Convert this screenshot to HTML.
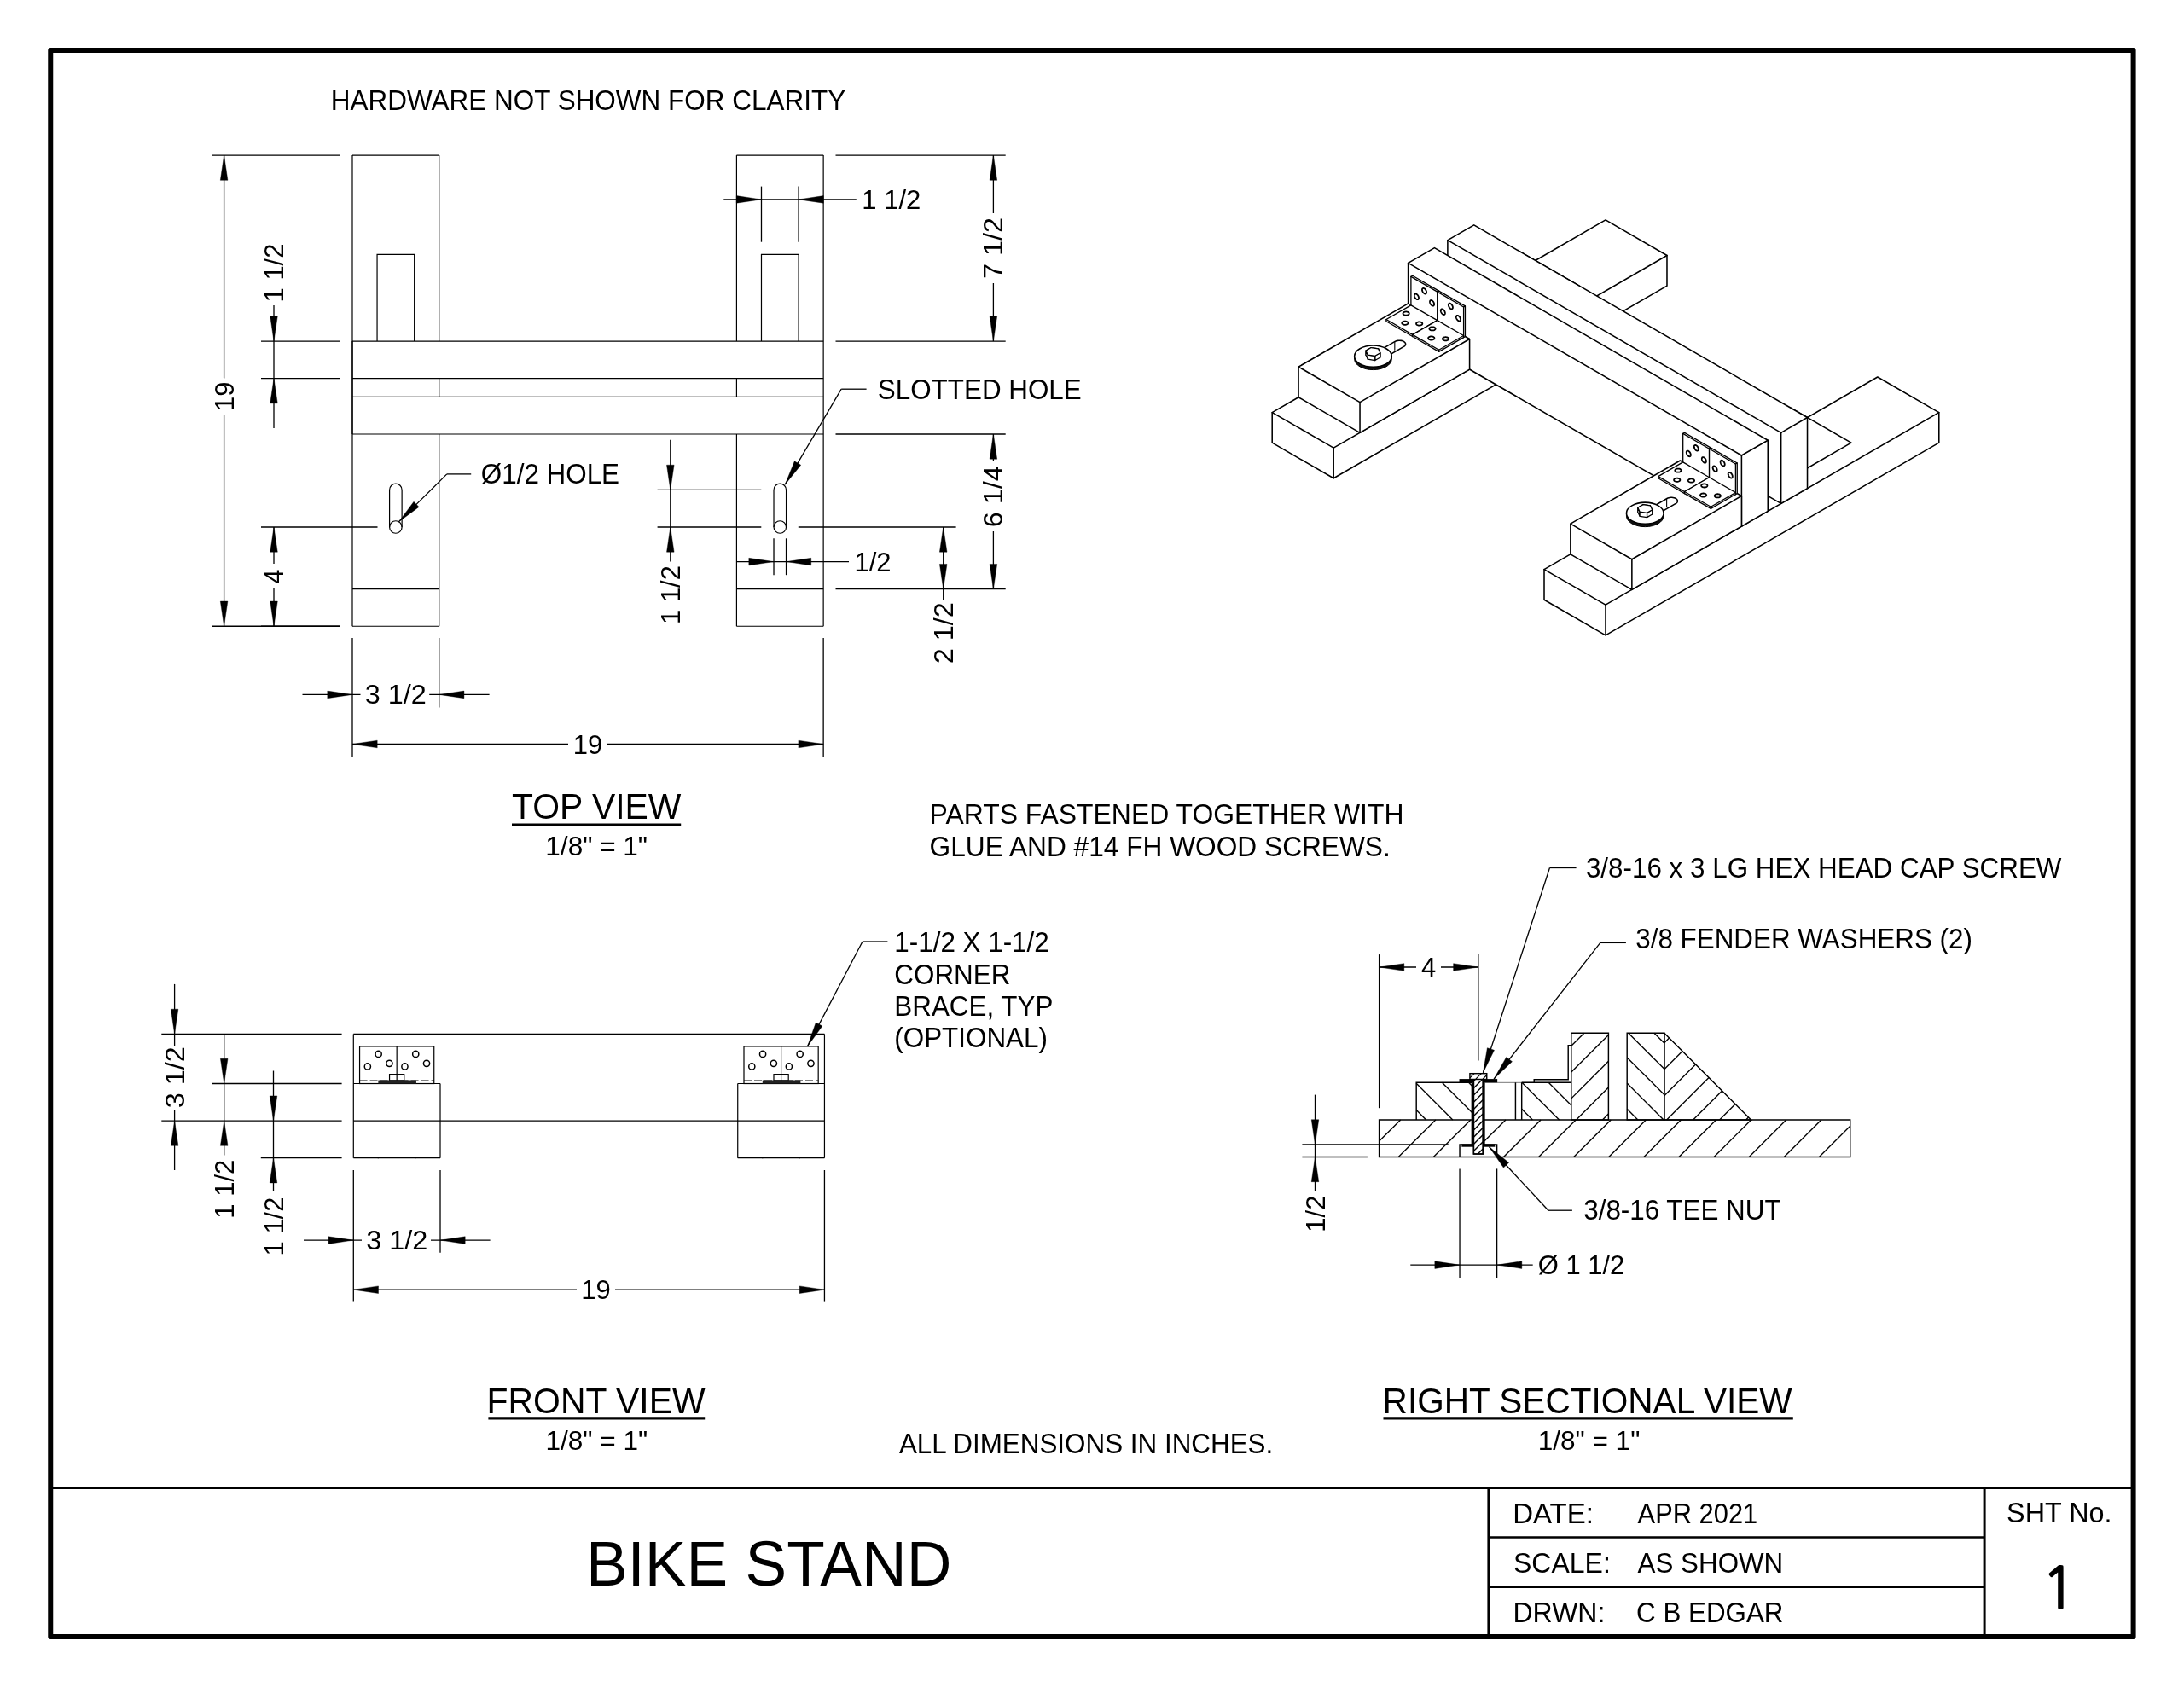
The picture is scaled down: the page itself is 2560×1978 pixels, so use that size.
<!DOCTYPE html>
<html lang="en"><head><meta charset="utf-8"><title>BIKE STAND</title>
<style>
html,body{margin:0;padding:0;background:#fff;}
body{width:2560px;height:1978px;overflow:hidden;}
svg{display:block;will-change:transform;}
svg text{font-family:"Liberation Sans",Arial,Helvetica,sans-serif;fill:#000;}
</style></head><body>
<svg width="2560" height="1978" viewBox="0 0 2560 1978">
<rect x="0" y="0" width="2560" height="1978" fill="#fff"/>
<rect x="59.25" y="58.9" width="2441.35" height="1860" fill="none" stroke="#000" stroke-width="6" stroke-linejoin="round"/>
<line x1="59.00" y1="1744.40" x2="2501.00" y2="1744.40" stroke="#000" stroke-width="3" />
<line x1="1744.90" y1="1744.40" x2="1744.90" y2="1919.00" stroke="#000" stroke-width="3" />
<line x1="2326.10" y1="1744.40" x2="2326.10" y2="1919.00" stroke="#000" stroke-width="3" />
<line x1="413.00" y1="182.10" x2="514.71" y2="182.10" stroke="#000" stroke-width="1.2" />
<line x1="413.00" y1="734.24" x2="514.71" y2="734.24" stroke="#000" stroke-width="1.2" />
<line x1="413.00" y1="182.10" x2="413.00" y2="734.24" stroke="#000" stroke-width="1.2" />
<line x1="514.71" y1="182.10" x2="514.71" y2="400.05" stroke="#000" stroke-width="1.2" />
<line x1="514.71" y1="443.64" x2="514.71" y2="465.43" stroke="#000" stroke-width="1.2" />
<line x1="514.71" y1="509.02" x2="514.71" y2="734.24" stroke="#000" stroke-width="1.2" />
<line x1="413.00" y1="690.65" x2="514.71" y2="690.65" stroke="#000" stroke-width="1.2" />
<polyline points="442.06,400.05 442.06,298.34 485.65,298.34 485.65,400.05" fill="none" stroke="#000" stroke-width="1.2" />
<path d="M456.59,618.00 L456.59,574.41 A7.26,7.26 0 0 1 471.12,574.41 L471.12,618.00" fill="none" stroke="#000" stroke-width="1.2"/>
<circle cx="463.86" cy="618.00" r="7.26" fill="none" stroke="#000" stroke-width="1.2"/>
<line x1="863.43" y1="182.10" x2="965.14" y2="182.10" stroke="#000" stroke-width="1.2" />
<line x1="863.43" y1="734.24" x2="965.14" y2="734.24" stroke="#000" stroke-width="1.2" />
<line x1="965.14" y1="182.10" x2="965.14" y2="734.24" stroke="#000" stroke-width="1.2" />
<line x1="863.43" y1="182.10" x2="863.43" y2="400.05" stroke="#000" stroke-width="1.2" />
<line x1="863.43" y1="443.64" x2="863.43" y2="465.43" stroke="#000" stroke-width="1.2" />
<line x1="863.43" y1="509.02" x2="863.43" y2="734.24" stroke="#000" stroke-width="1.2" />
<line x1="863.43" y1="690.65" x2="965.14" y2="690.65" stroke="#000" stroke-width="1.2" />
<polyline points="892.49,400.05 892.49,298.34 936.08,298.34 936.08,400.05" fill="none" stroke="#000" stroke-width="1.2" />
<path d="M907.02,618.00 L907.02,574.41 A7.26,7.26 0 0 1 921.55,574.41 L921.55,618.00" fill="none" stroke="#000" stroke-width="1.2"/>
<circle cx="914.28" cy="618.00" r="7.26" fill="none" stroke="#000" stroke-width="1.2"/>
<line x1="413.00" y1="400.05" x2="965.14" y2="400.05" stroke="#000" stroke-width="1.2" />
<line x1="413.00" y1="443.64" x2="965.14" y2="443.64" stroke="#000" stroke-width="1.2" />
<line x1="413.00" y1="465.43" x2="965.14" y2="465.43" stroke="#000" stroke-width="1.2" />
<line x1="413.00" y1="509.02" x2="965.14" y2="509.02" stroke="#000" stroke-width="1.2" />
<line x1="413.00" y1="400.05" x2="413.00" y2="509.02" stroke="#000" stroke-width="1.2" />
<line x1="248.00" y1="182.10" x2="398.50" y2="182.10" stroke="#000" stroke-width="1.3" />
<line x1="248.00" y1="734.24" x2="398.50" y2="734.24" stroke="#000" stroke-width="1.3" />
<line x1="262.60" y1="182.10" x2="262.60" y2="443.50" stroke="#000" stroke-width="1.3" />
<line x1="262.60" y1="487.00" x2="262.60" y2="734.24" stroke="#000" stroke-width="1.3" />
<polygon points="262.60,182.10 266.90,211.30 258.30,211.30" fill="#000" stroke="#000" stroke-width="0.4"/>
<polygon points="262.60,734.24 258.30,705.04 266.90,705.04" fill="#000" stroke="#000" stroke-width="0.4"/>
<text transform="translate(273.65 464.80) rotate(-90) scale(0.975 1)" font-size="31.8" text-anchor="middle" >19</text>
<line x1="306.00" y1="400.05" x2="398.50" y2="400.05" stroke="#000" stroke-width="1.3" />
<line x1="306.00" y1="443.64" x2="398.50" y2="443.64" stroke="#000" stroke-width="1.3" />
<line x1="321.00" y1="358.00" x2="321.00" y2="501.90" stroke="#000" stroke-width="1.3" />
<polygon points="321.00,400.05 316.70,370.85 325.30,370.85" fill="#000" stroke="#000" stroke-width="0.4"/>
<polygon points="321.00,443.64 325.30,472.84 316.70,472.84" fill="#000" stroke="#000" stroke-width="0.4"/>
<text transform="translate(332.05 320.00) rotate(-90) scale(0.975 1)" font-size="31.8" text-anchor="middle" >1 1/2</text>
<line x1="306.00" y1="618.00" x2="442.50" y2="618.00" stroke="#000" stroke-width="1.3" />
<line x1="306.00" y1="734.24" x2="398.50" y2="734.24" stroke="#000" stroke-width="1.3" />
<line x1="321.00" y1="618.00" x2="321.00" y2="661.00" stroke="#000" stroke-width="1.3" />
<line x1="321.00" y1="690.00" x2="321.00" y2="734.24" stroke="#000" stroke-width="1.3" />
<polygon points="321.00,618.00 325.30,647.20 316.70,647.20" fill="#000" stroke="#000" stroke-width="0.4"/>
<polygon points="321.00,734.24 316.70,705.04 325.30,705.04" fill="#000" stroke="#000" stroke-width="0.4"/>
<text transform="translate(332.05 676.12) rotate(-90) scale(0.975 1)" font-size="31.8" text-anchor="middle" >4</text>
<polygon points="467.30,611.90 485.01,588.29 491.07,594.40" fill="#000" stroke="#000" stroke-width="0.4"/>
<line x1="467.30" y1="611.90" x2="523.80" y2="555.90" stroke="#000" stroke-width="1.3" />
<line x1="523.80" y1="555.90" x2="552.20" y2="555.90" stroke="#000" stroke-width="1.3" />
<text transform="translate(563.80 567.20) scale(0.96 1)" font-size="32.7" text-anchor="start" >Ø1/2 HOLE</text>
<line x1="413.00" y1="748.10" x2="413.00" y2="887.50" stroke="#000" stroke-width="1.3" />
<line x1="514.71" y1="748.10" x2="514.71" y2="829.40" stroke="#000" stroke-width="1.3" />
<line x1="965.14" y1="748.10" x2="965.14" y2="887.50" stroke="#000" stroke-width="1.3" />
<line x1="354.50" y1="814.40" x2="422.50" y2="814.40" stroke="#000" stroke-width="1.3" />
<line x1="503.20" y1="814.40" x2="573.60" y2="814.40" stroke="#000" stroke-width="1.3" />
<polygon points="413.00,814.40 383.80,818.70 383.80,810.10" fill="#000" stroke="#000" stroke-width="0.4"/>
<polygon points="514.71,814.40 543.91,810.10 543.91,818.70" fill="#000" stroke="#000" stroke-width="0.4"/>
<text transform="translate(463.86 825.45) scale(1.018875 1)" font-size="31.8" text-anchor="middle" >3 1/2</text>
<line x1="413.00" y1="872.50" x2="666.00" y2="872.50" stroke="#000" stroke-width="1.3" />
<line x1="711.00" y1="872.50" x2="965.14" y2="872.50" stroke="#000" stroke-width="1.3" />
<polygon points="413.00,872.50 442.20,868.20 442.20,876.80" fill="#000" stroke="#000" stroke-width="0.4"/>
<polygon points="965.14,872.50 935.94,876.80 935.94,868.20" fill="#000" stroke="#000" stroke-width="0.4"/>
<text transform="translate(689.07 883.55) scale(0.975 1)" font-size="31.8" text-anchor="middle" >19</text>
<line x1="979.50" y1="182.10" x2="1178.70" y2="182.10" stroke="#000" stroke-width="1.3" />
<line x1="979.50" y1="400.05" x2="1178.70" y2="400.05" stroke="#000" stroke-width="1.3" />
<line x1="979.50" y1="509.02" x2="1178.70" y2="509.02" stroke="#000" stroke-width="1.3" />
<line x1="979.50" y1="690.65" x2="1178.70" y2="690.65" stroke="#000" stroke-width="1.3" />
<line x1="1164.40" y1="182.10" x2="1164.40" y2="250.00" stroke="#000" stroke-width="1.3" />
<line x1="1164.40" y1="332.00" x2="1164.40" y2="400.05" stroke="#000" stroke-width="1.3" />
<polygon points="1164.40,182.10 1168.70,211.30 1160.10,211.30" fill="#000" stroke="#000" stroke-width="0.4"/>
<polygon points="1164.40,400.05 1160.10,370.85 1168.70,370.85" fill="#000" stroke="#000" stroke-width="0.4"/>
<text transform="translate(1175.45 291.07) rotate(-90) scale(1.018875 1)" font-size="31.8" text-anchor="middle" >7 1/2</text>
<line x1="1164.40" y1="509.02" x2="1164.40" y2="541.00" stroke="#000" stroke-width="1.3" />
<line x1="1164.40" y1="623.00" x2="1164.40" y2="690.65" stroke="#000" stroke-width="1.3" />
<polygon points="1164.40,509.02 1168.70,538.23 1160.10,538.23" fill="#000" stroke="#000" stroke-width="0.4"/>
<polygon points="1164.40,690.65 1160.10,661.45 1168.70,661.45" fill="#000" stroke="#000" stroke-width="0.4"/>
<text transform="translate(1175.45 582.20) rotate(-90) scale(1.018875 1)" font-size="31.8" text-anchor="middle" >6 1/4</text>
<line x1="892.49" y1="218.60" x2="892.49" y2="283.70" stroke="#000" stroke-width="1.3" />
<line x1="936.08" y1="218.60" x2="936.08" y2="283.70" stroke="#000" stroke-width="1.3" />
<line x1="848.30" y1="233.90" x2="1003.80" y2="233.90" stroke="#000" stroke-width="1.3" />
<polygon points="892.49,233.90 863.29,238.20 863.29,229.60" fill="#000" stroke="#000" stroke-width="0.4"/>
<polygon points="936.08,233.90 965.28,229.60 965.28,238.20" fill="#000" stroke="#000" stroke-width="0.4"/>
<text transform="translate(1010.30 244.95) scale(0.975 1)" font-size="31.8" text-anchor="start" >1 1/2</text>
<polygon points="920.20,568.20 931.32,540.86 938.73,545.23" fill="#000" stroke="#000" stroke-width="0.4"/>
<line x1="920.20" y1="568.20" x2="986.20" y2="456.20" stroke="#000" stroke-width="1.3" />
<line x1="986.20" y1="456.20" x2="1015.60" y2="456.20" stroke="#000" stroke-width="1.3" />
<text transform="translate(1028.80 467.50) scale(0.96 1)" font-size="32.7" text-anchor="start" >SLOTTED HOLE</text>
<line x1="770.60" y1="574.41" x2="892.30" y2="574.41" stroke="#000" stroke-width="1.3" />
<line x1="770.60" y1="618.00" x2="892.30" y2="618.00" stroke="#000" stroke-width="1.3" />
<line x1="785.80" y1="515.70" x2="785.80" y2="658.60" stroke="#000" stroke-width="1.3" />
<polygon points="785.80,574.41 781.50,545.21 790.10,545.21" fill="#000" stroke="#000" stroke-width="0.4"/>
<polygon points="785.80,618.00 790.10,647.20 781.50,647.20" fill="#000" stroke="#000" stroke-width="0.4"/>
<text transform="translate(796.85 697.50) rotate(-90) scale(0.975 1)" font-size="31.8" text-anchor="middle" >1 1/2</text>
<line x1="907.02" y1="631.30" x2="907.02" y2="674.20" stroke="#000" stroke-width="1.3" />
<line x1="921.55" y1="631.30" x2="921.55" y2="674.20" stroke="#000" stroke-width="1.3" />
<line x1="863.60" y1="658.60" x2="995.00" y2="658.60" stroke="#000" stroke-width="1.3" />
<polygon points="907.02,658.60 877.82,662.90 877.82,654.30" fill="#000" stroke="#000" stroke-width="0.4"/>
<polygon points="921.55,658.60 950.75,654.30 950.75,662.90" fill="#000" stroke="#000" stroke-width="0.4"/>
<text transform="translate(1001.50 669.65) scale(0.975 1)" font-size="31.8" text-anchor="start" >1/2</text>
<line x1="935.80" y1="618.00" x2="1120.60" y2="618.00" stroke="#000" stroke-width="1.3" />
<line x1="1105.70" y1="618.00" x2="1105.70" y2="703.20" stroke="#000" stroke-width="1.3" />
<polygon points="1105.70,618.00 1110.00,647.20 1101.40,647.20" fill="#000" stroke="#000" stroke-width="0.4"/>
<polygon points="1105.70,690.65 1101.40,661.45 1110.00,661.45" fill="#000" stroke="#000" stroke-width="0.4"/>
<text transform="translate(1116.75 742.30) rotate(-90) scale(1.018875 1)" font-size="31.8" text-anchor="middle" >2 1/2</text>
<text transform="translate(387.80 129.40) scale(0.94 1)" font-size="33.5" text-anchor="start" >HARDWARE NOT SHOWN FOR CLARITY</text>
<text transform="translate(699.20 960.40) scale(0.981 1)" font-size="41.7" text-anchor="middle" >TOP VIEW</text>
<line x1="600.00" y1="966.80" x2="798.20" y2="966.80" stroke="#000" stroke-width="2.4" />
<text transform="translate(699.20 1003.30) scale(0.986 1)" font-size="32.0" text-anchor="middle" >1/8&quot; = 1&quot;</text>
<text transform="translate(698.60 1657.00) scale(0.981 1)" font-size="41.7" text-anchor="middle" >FRONT VIEW</text>
<line x1="572.40" y1="1663.40" x2="826.20" y2="1663.40" stroke="#000" stroke-width="2.4" />
<text transform="translate(699.30 1699.90) scale(0.986 1)" font-size="32.0" text-anchor="middle" >1/8&quot; = 1&quot;</text>
<text transform="translate(1860.60 1657.00) scale(0.973 1)" font-size="41.7" text-anchor="middle" >RIGHT SECTIONAL VIEW</text>
<line x1="1621.50" y1="1663.40" x2="2101.80" y2="1663.40" stroke="#000" stroke-width="2.4" />
<text transform="translate(1862.50 1699.90) scale(0.986 1)" font-size="32.0" text-anchor="middle" >1/8&quot; = 1&quot;</text>
<text transform="translate(1089.60 966.20) scale(0.98 1)" font-size="32.55" text-anchor="start" >PARTS FASTENED TOGETHER WITH</text>
<text transform="translate(1089.60 1003.60) scale(0.973 1)" font-size="32.55" text-anchor="start" >GLUE AND #14 FH WOOD SCREWS.</text>
<text transform="translate(1053.90 1703.70) scale(0.96 1)" font-size="32.7" text-anchor="start" >ALL DIMENSIONS IN INCHES.</text>
<text transform="translate(686.90 1858.50) scale(0.993 1)" font-size="73.5" text-anchor="start" >BIKE STAND</text>
<line x1="1744.90" y1="1802.50" x2="2326.10" y2="1802.50" stroke="#000" stroke-width="2.5" />
<line x1="1744.90" y1="1860.70" x2="2326.10" y2="1860.70" stroke="#000" stroke-width="2.5" />
<text transform="translate(1773.20 1785.90)" font-size="33.0" text-anchor="start" >DATE:</text>
<text transform="translate(1919.60 1785.90) scale(0.935 1)" font-size="33.0" text-anchor="start" >APR 2021</text>
<text transform="translate(1774.00 1844.10) scale(0.97 1)" font-size="33.0" text-anchor="start" >SCALE:</text>
<text transform="translate(1919.60 1844.10) scale(0.95 1)" font-size="33.0" text-anchor="start" >AS SHOWN</text>
<text transform="translate(1773.50 1901.90) scale(0.97 1)" font-size="33.0" text-anchor="start" >DRWN:</text>
<text transform="translate(1918.10 1901.90) scale(0.95 1)" font-size="33.0" text-anchor="start" >C B EDGAR</text>
<text transform="translate(2352.10 1785.30) scale(0.98 1)" font-size="33.0" text-anchor="start" >SHT No.</text>
<text transform="translate(2413.30 1886.30)" font-size="67.0" text-anchor="middle" style="font-family:NanumGothic,&quot;Liberation Sans&quot;,sans-serif;stroke:#000;stroke-width:1.8px">1</text>
<line x1="414.30" y1="1212.40" x2="966.44" y2="1212.40" stroke="#000" stroke-width="1.2" />
<line x1="414.30" y1="1212.40" x2="414.30" y2="1357.70" stroke="#000" stroke-width="1.2" />
<line x1="966.44" y1="1212.40" x2="966.44" y2="1357.70" stroke="#000" stroke-width="1.2" />
<line x1="414.30" y1="1314.11" x2="966.44" y2="1314.11" stroke="#000" stroke-width="1.2" />
<line x1="414.30" y1="1270.52" x2="516.01" y2="1270.52" stroke="#000" stroke-width="1.2" />
<line x1="414.30" y1="1357.70" x2="516.01" y2="1357.70" stroke="#000" stroke-width="1.2" />
<line x1="516.01" y1="1270.52" x2="516.01" y2="1357.70" stroke="#000" stroke-width="1.2" />
<rect x="421.56" y="1226.93" width="87.18" height="43.59" fill="none" stroke="#000" stroke-width="1.2"/>
<line x1="465.16" y1="1226.93" x2="465.16" y2="1270.52" stroke="#000" stroke-width="1.2" />
<line x1="421.56" y1="1267.03" x2="508.75" y2="1267.03" stroke="#000" stroke-width="1.2" stroke-dasharray="9 3"/>
<circle cx="443.65" cy="1235.94" r="3.6" fill="#fff" stroke="#000" stroke-width="1.5"/>
<circle cx="430.86" cy="1250.47" r="3.6" fill="#fff" stroke="#000" stroke-width="1.5"/>
<circle cx="456.44" cy="1246.84" r="3.6" fill="#fff" stroke="#000" stroke-width="1.5"/>
<circle cx="487.24" cy="1235.94" r="3.6" fill="#fff" stroke="#000" stroke-width="1.5"/>
<circle cx="474.45" cy="1250.47" r="3.6" fill="#fff" stroke="#000" stroke-width="1.5"/>
<circle cx="500.03" cy="1246.84" r="3.6" fill="#fff" stroke="#000" stroke-width="1.5"/>
<rect x="456.56" y="1259.62" width="17.20" height="7.20" fill="#fff" stroke="#000" stroke-width="1.2"/>
<line x1="465.16" y1="1259.62" x2="465.16" y2="1270.52" stroke="#000" stroke-width="1.2" />
<rect x="443.36" y="1266.52" width="44.59" height="4.0" fill="#222"/>
<line x1="443.36" y1="1356.20" x2="443.36" y2="1358.20" stroke="#000" stroke-width="1.2" />
<line x1="486.95" y1="1356.20" x2="486.95" y2="1358.20" stroke="#000" stroke-width="1.2" />
<line x1="864.73" y1="1270.52" x2="966.44" y2="1270.52" stroke="#000" stroke-width="1.2" />
<line x1="864.73" y1="1357.70" x2="966.44" y2="1357.70" stroke="#000" stroke-width="1.2" />
<line x1="864.73" y1="1270.52" x2="864.73" y2="1357.70" stroke="#000" stroke-width="1.2" />
<rect x="872.00" y="1226.93" width="87.18" height="43.59" fill="none" stroke="#000" stroke-width="1.2"/>
<line x1="915.59" y1="1226.93" x2="915.59" y2="1270.52" stroke="#000" stroke-width="1.2" />
<line x1="872.00" y1="1267.03" x2="959.17" y2="1267.03" stroke="#000" stroke-width="1.2" stroke-dasharray="9 3"/>
<circle cx="894.08" cy="1235.94" r="3.6" fill="#fff" stroke="#000" stroke-width="1.5"/>
<circle cx="881.29" cy="1250.47" r="3.6" fill="#fff" stroke="#000" stroke-width="1.5"/>
<circle cx="906.87" cy="1246.84" r="3.6" fill="#fff" stroke="#000" stroke-width="1.5"/>
<circle cx="937.67" cy="1235.94" r="3.6" fill="#fff" stroke="#000" stroke-width="1.5"/>
<circle cx="924.88" cy="1250.47" r="3.6" fill="#fff" stroke="#000" stroke-width="1.5"/>
<circle cx="950.46" cy="1246.84" r="3.6" fill="#fff" stroke="#000" stroke-width="1.5"/>
<rect x="906.99" y="1259.62" width="17.20" height="7.20" fill="#fff" stroke="#000" stroke-width="1.2"/>
<line x1="915.59" y1="1259.62" x2="915.59" y2="1270.52" stroke="#000" stroke-width="1.2" />
<rect x="893.79" y="1266.52" width="44.59" height="4.0" fill="#222"/>
<line x1="893.79" y1="1356.20" x2="893.79" y2="1358.20" stroke="#000" stroke-width="1.2" />
<line x1="937.38" y1="1356.20" x2="937.38" y2="1358.20" stroke="#000" stroke-width="1.2" />
<line x1="189.30" y1="1212.40" x2="400.60" y2="1212.40" stroke="#000" stroke-width="1.3" />
<line x1="189.30" y1="1314.11" x2="400.60" y2="1314.11" stroke="#000" stroke-width="1.3" />
<line x1="248.00" y1="1270.52" x2="400.60" y2="1270.52" stroke="#000" stroke-width="1.3" />
<line x1="305.80" y1="1357.70" x2="400.60" y2="1357.70" stroke="#000" stroke-width="1.3" />
<line x1="204.60" y1="1153.90" x2="204.60" y2="1212.40" stroke="#000" stroke-width="1.3" />
<line x1="204.60" y1="1212.40" x2="204.60" y2="1226.00" stroke="#000" stroke-width="1.3" />
<line x1="204.60" y1="1301.00" x2="204.60" y2="1314.11" stroke="#000" stroke-width="1.3" />
<line x1="204.60" y1="1314.11" x2="204.60" y2="1372.00" stroke="#000" stroke-width="1.3" />
<polygon points="204.60,1212.40 200.30,1183.20 208.90,1183.20" fill="#000" stroke="#000" stroke-width="0.4"/>
<polygon points="204.60,1314.11 208.90,1343.31 200.30,1343.31" fill="#000" stroke="#000" stroke-width="0.4"/>
<text transform="translate(215.65 1263.26) rotate(-90) scale(1.018875 1)" font-size="31.8" text-anchor="middle" >3 1/2</text>
<line x1="262.70" y1="1212.40" x2="262.70" y2="1354.40" stroke="#000" stroke-width="1.3" />
<polygon points="262.70,1270.52 258.40,1241.32 267.00,1241.32" fill="#000" stroke="#000" stroke-width="0.4"/>
<polygon points="262.70,1314.11 267.00,1343.31 258.40,1343.31" fill="#000" stroke="#000" stroke-width="0.4"/>
<text transform="translate(273.75 1394.20) rotate(-90) scale(0.975 1)" font-size="31.8" text-anchor="middle" >1 1/2</text>
<line x1="320.50" y1="1255.50" x2="320.50" y2="1396.90" stroke="#000" stroke-width="1.3" />
<polygon points="320.50,1314.11 316.20,1284.91 324.80,1284.91" fill="#000" stroke="#000" stroke-width="0.4"/>
<polygon points="320.50,1357.70 324.80,1386.90 316.20,1386.90" fill="#000" stroke="#000" stroke-width="0.4"/>
<text transform="translate(331.55 1438.00) rotate(-90) scale(0.975 1)" font-size="31.8" text-anchor="middle" >1 1/2</text>
<line x1="414.30" y1="1372.00" x2="414.30" y2="1526.60" stroke="#000" stroke-width="1.3" />
<line x1="516.01" y1="1372.00" x2="516.01" y2="1468.80" stroke="#000" stroke-width="1.3" />
<line x1="966.44" y1="1372.00" x2="966.44" y2="1526.60" stroke="#000" stroke-width="1.3" />
<line x1="356.00" y1="1454.10" x2="424.00" y2="1454.10" stroke="#000" stroke-width="1.3" />
<line x1="505.00" y1="1454.10" x2="574.60" y2="1454.10" stroke="#000" stroke-width="1.3" />
<polygon points="414.30,1454.10 385.10,1458.40 385.10,1449.80" fill="#000" stroke="#000" stroke-width="0.4"/>
<polygon points="516.01,1454.10 545.21,1449.80 545.21,1458.40" fill="#000" stroke="#000" stroke-width="0.4"/>
<text transform="translate(465.15 1465.15) scale(1.018875 1)" font-size="31.8" text-anchor="middle" >3 1/2</text>
<line x1="414.30" y1="1512.20" x2="676.00" y2="1512.20" stroke="#000" stroke-width="1.3" />
<line x1="721.00" y1="1512.20" x2="966.44" y2="1512.20" stroke="#000" stroke-width="1.3" />
<polygon points="414.30,1512.20 443.50,1507.90 443.50,1516.50" fill="#000" stroke="#000" stroke-width="0.4"/>
<polygon points="966.44,1512.20 937.24,1516.50 937.24,1507.90" fill="#000" stroke="#000" stroke-width="0.4"/>
<text transform="translate(698.60 1523.25) scale(0.975 1)" font-size="31.8" text-anchor="middle" >19</text>
<polygon points="946.50,1226.90 956.26,1199.05 963.88,1203.04" fill="#000" stroke="#000" stroke-width="0.4"/>
<line x1="946.50" y1="1226.90" x2="1011.00" y2="1104.00" stroke="#000" stroke-width="1.3" />
<line x1="1011.00" y1="1104.00" x2="1040.40" y2="1104.00" stroke="#000" stroke-width="1.3" />
<text transform="translate(1048.30 1116.30) scale(0.96 1)" font-size="32.7" text-anchor="start" >1-1/2 X 1-1/2</text>
<text transform="translate(1048.30 1153.55) scale(0.96 1)" font-size="32.7" text-anchor="start" >CORNER</text>
<text transform="translate(1048.30 1190.80) scale(0.96 1)" font-size="32.7" text-anchor="start" >BRACE, TYP</text>
<text transform="translate(1048.30 1228.05) scale(0.96 1)" font-size="32.7" text-anchor="start" >(OPTIONAL)</text>
<line x1="1616.60" y1="1338.00" x2="1641.69" y2="1312.91" stroke="#000" stroke-width="1.35" />
<line x1="1639.20" y1="1356.50" x2="1682.79" y2="1312.91" stroke="#000" stroke-width="1.35" />
<line x1="1680.30" y1="1356.50" x2="1711.04" y2="1325.75" stroke="#000" stroke-width="1.35" />
<line x1="1711.04" y1="1325.75" x2="1723.89" y2="1312.91" stroke="#000" stroke-width="1.35" />
<line x1="1740.11" y1="1337.79" x2="1754.63" y2="1323.26" stroke="#000" stroke-width="1.35" />
<line x1="1754.63" y1="1323.26" x2="1764.99" y2="1312.91" stroke="#000" stroke-width="1.35" />
<line x1="1762.50" y1="1356.50" x2="1806.09" y2="1312.91" stroke="#000" stroke-width="1.35" />
<line x1="1803.60" y1="1356.50" x2="1847.19" y2="1312.91" stroke="#000" stroke-width="1.35" />
<line x1="1844.70" y1="1356.50" x2="1888.29" y2="1312.91" stroke="#000" stroke-width="1.35" />
<line x1="1885.80" y1="1356.50" x2="1929.39" y2="1312.91" stroke="#000" stroke-width="1.35" />
<line x1="1926.90" y1="1356.50" x2="1970.49" y2="1312.91" stroke="#000" stroke-width="1.35" />
<line x1="1968.00" y1="1356.50" x2="2011.59" y2="1312.91" stroke="#000" stroke-width="1.35" />
<line x1="2009.10" y1="1356.50" x2="2052.69" y2="1312.91" stroke="#000" stroke-width="1.35" />
<line x1="2050.20" y1="1356.50" x2="2093.79" y2="1312.91" stroke="#000" stroke-width="1.35" />
<line x1="2091.30" y1="1356.50" x2="2134.89" y2="1312.91" stroke="#000" stroke-width="1.35" />
<line x1="2132.40" y1="1356.50" x2="2168.74" y2="1320.16" stroke="#000" stroke-width="1.35" />
<polygon points="1616.60,1356.50 2168.74,1356.50 2168.74,1312.91 1616.60,1312.91" fill="none" stroke="#000" stroke-width="1.45" />
<polyline points="1711.04,1356.50 1711.04,1341.97 1754.63,1341.97 1754.63,1356.50" fill="none" stroke="#000" stroke-width="1.45" />
<line x1="1660.19" y1="1301.49" x2="1671.61" y2="1312.91" stroke="#000" stroke-width="1.35" />
<line x1="1660.19" y1="1270.29" x2="1702.81" y2="1312.91" stroke="#000" stroke-width="1.35" />
<line x1="1690.42" y1="1269.32" x2="1725.57" y2="1304.47" stroke="#000" stroke-width="1.35" />
<line x1="1721.62" y1="1269.32" x2="1725.57" y2="1273.27" stroke="#000" stroke-width="1.35" />
<line x1="1783.69" y1="1300.19" x2="1796.41" y2="1312.91" stroke="#000" stroke-width="1.35" />
<line x1="1784.02" y1="1269.32" x2="1827.61" y2="1312.91" stroke="#000" stroke-width="1.35" />
<line x1="1815.22" y1="1269.32" x2="1841.82" y2="1295.91" stroke="#000" stroke-width="1.35" />
<polyline points="1660.19,1312.91 1660.19,1269.32 1725.57,1269.32" fill="none" stroke="#000" stroke-width="1.45" />
<line x1="1740.11" y1="1269.32" x2="1841.81" y2="1269.32" stroke="#555" stroke-width="0.8" />
<line x1="1783.69" y1="1269.32" x2="1841.81" y2="1269.32" stroke="#000" stroke-width="1.45" />
<line x1="1776.43" y1="1269.32" x2="1776.43" y2="1312.91" stroke="#000" stroke-width="1.45" />
<line x1="1783.69" y1="1269.32" x2="1783.69" y2="1312.91" stroke="#000" stroke-width="1.45" />
<line x1="1841.81" y1="1226.29" x2="1856.90" y2="1211.20" stroke="#000" stroke-width="1.35" />
<line x1="1841.81" y1="1257.09" x2="1885.40" y2="1213.50" stroke="#000" stroke-width="1.35" />
<line x1="1841.81" y1="1287.89" x2="1885.40" y2="1244.30" stroke="#000" stroke-width="1.35" />
<line x1="1847.59" y1="1312.91" x2="1885.40" y2="1275.10" stroke="#000" stroke-width="1.35" />
<line x1="1878.39" y1="1312.91" x2="1885.40" y2="1305.90" stroke="#000" stroke-width="1.35" />
<polygon points="1841.81,1312.91 1885.40,1312.91 1885.40,1211.20 1841.81,1211.20" fill="none" stroke="#000" stroke-width="1.45" />
<line x1="1907.20" y1="1300.30" x2="1919.81" y2="1312.91" stroke="#000" stroke-width="1.35" />
<line x1="1907.20" y1="1270.10" x2="1950.01" y2="1312.91" stroke="#000" stroke-width="1.35" />
<line x1="1907.20" y1="1239.90" x2="1950.79" y2="1283.49" stroke="#000" stroke-width="1.35" />
<line x1="1908.70" y1="1211.20" x2="1950.79" y2="1253.29" stroke="#000" stroke-width="1.35" />
<line x1="1938.90" y1="1211.20" x2="1950.79" y2="1223.09" stroke="#000" stroke-width="1.35" />
<polygon points="1907.20,1312.91 1950.79,1312.91 1950.79,1211.20 1907.20,1211.20" fill="none" stroke="#000" stroke-width="1.45" />
<line x1="1950.79" y1="1222.71" x2="1956.55" y2="1216.95" stroke="#000" stroke-width="1.35" />
<line x1="1950.79" y1="1253.71" x2="1972.04" y2="1232.46" stroke="#000" stroke-width="1.35" />
<line x1="1950.79" y1="1284.71" x2="1987.54" y2="1247.96" stroke="#000" stroke-width="1.35" />
<line x1="1953.59" y1="1312.91" x2="2003.04" y2="1263.46" stroke="#000" stroke-width="1.35" />
<line x1="1984.59" y1="1312.91" x2="2018.55" y2="1278.95" stroke="#000" stroke-width="1.35" />
<line x1="2015.59" y1="1312.91" x2="2034.05" y2="1294.45" stroke="#000" stroke-width="1.35" />
<line x1="2046.59" y1="1312.91" x2="2049.55" y2="1309.95" stroke="#000" stroke-width="1.35" />
<polygon points="1950.79,1211.20 2052.50,1312.91 1950.79,1312.91" fill="none" stroke="#000" stroke-width="1.45" />
<polyline points="1798.22,1269.32 1798.22,1265.72 1838.21,1265.72 1838.21,1225.73 1841.81,1225.73" fill="none" stroke="#000" stroke-width="1.45" />
<line x1="1725.94" y1="1269.32" x2="1725.94" y2="1341.97" stroke="#000" stroke-width="2.6" />
<line x1="1739.54" y1="1269.32" x2="1739.54" y2="1341.97" stroke="#000" stroke-width="2.2" />
<rect x="1727.39" y="1265.10" width="10.90" height="87.90" fill="#fff" stroke="#000" stroke-width="1.45"/>
<line x1="1727.39" y1="1267.61" x2="1729.90" y2="1265.10" stroke="#000" stroke-width="1.4" />
<line x1="1727.39" y1="1275.81" x2="1738.10" y2="1265.10" stroke="#000" stroke-width="1.4" />
<line x1="1727.39" y1="1284.01" x2="1738.29" y2="1273.11" stroke="#000" stroke-width="1.4" />
<line x1="1727.39" y1="1292.21" x2="1738.29" y2="1281.31" stroke="#000" stroke-width="1.4" />
<line x1="1727.39" y1="1300.41" x2="1738.29" y2="1289.51" stroke="#000" stroke-width="1.4" />
<line x1="1727.39" y1="1308.61" x2="1738.29" y2="1297.71" stroke="#000" stroke-width="1.4" />
<line x1="1727.39" y1="1316.81" x2="1738.29" y2="1305.91" stroke="#000" stroke-width="1.4" />
<line x1="1727.39" y1="1325.01" x2="1738.29" y2="1314.11" stroke="#000" stroke-width="1.4" />
<line x1="1727.39" y1="1333.21" x2="1738.29" y2="1322.31" stroke="#000" stroke-width="1.4" />
<line x1="1727.39" y1="1341.41" x2="1738.29" y2="1330.51" stroke="#000" stroke-width="1.4" />
<line x1="1727.39" y1="1349.61" x2="1738.29" y2="1338.71" stroke="#000" stroke-width="1.4" />
<line x1="1732.20" y1="1353.00" x2="1738.29" y2="1346.91" stroke="#000" stroke-width="1.4" />
<rect x="1727.39" y="1265.10" width="10.90" height="87.90" fill="none" stroke="#000" stroke-width="1.45"/>
<rect x="1722.94" y="1258.70" width="19.80" height="6.80" fill="#fff" stroke="#000" stroke-width="1.45"/>
<line x1="1722.94" y1="1263.86" x2="1728.10" y2="1258.70" stroke="#000" stroke-width="1.2" />
<line x1="1729.90" y1="1265.10" x2="1736.30" y2="1258.70" stroke="#000" stroke-width="1.2" />
<line x1="1738.10" y1="1265.10" x2="1742.74" y2="1260.46" stroke="#000" stroke-width="1.2" />
<rect x="1710.54" y="1265.1" width="16.9" height="4.2" fill="#000"/>
<rect x="1738.24" y="1265.1" width="16.9" height="4.2" fill="#000"/>
<rect x="1713.34" y="1341.4" width="14.1" height="3.3" fill="#000"/>
<rect x="1738.24" y="1341.4" width="14.1" height="3.3" fill="#000"/>
<line x1="1616.60" y1="1119.10" x2="1616.60" y2="1299.20" stroke="#000" stroke-width="1.3" />
<line x1="1732.84" y1="1119.10" x2="1732.84" y2="1243.40" stroke="#000" stroke-width="1.3" />
<line x1="1616.60" y1="1134.00" x2="1660.00" y2="1134.00" stroke="#000" stroke-width="1.3" />
<line x1="1689.00" y1="1134.00" x2="1732.84" y2="1134.00" stroke="#000" stroke-width="1.3" />
<polygon points="1616.60,1134.00 1645.80,1129.70 1645.80,1138.30" fill="#000" stroke="#000" stroke-width="0.4"/>
<polygon points="1732.84,1134.00 1703.64,1138.30 1703.64,1129.70" fill="#000" stroke="#000" stroke-width="0.4"/>
<text transform="translate(1674.72 1145.05) scale(0.975 1)" font-size="31.8" text-anchor="middle" >4</text>
<line x1="1526.40" y1="1341.97" x2="1697.80" y2="1341.97" stroke="#000" stroke-width="1.3" />
<line x1="1526.40" y1="1356.50" x2="1602.90" y2="1356.50" stroke="#000" stroke-width="1.3" />
<line x1="1541.50" y1="1283.60" x2="1541.50" y2="1396.70" stroke="#000" stroke-width="1.3" />
<polygon points="1541.50,1341.97 1537.20,1312.77 1545.80,1312.77" fill="#000" stroke="#000" stroke-width="0.4"/>
<polygon points="1541.50,1356.50 1545.80,1385.70 1537.20,1385.70" fill="#000" stroke="#000" stroke-width="0.4"/>
<text transform="translate(1552.55 1423.10) rotate(-90) scale(0.975 1)" font-size="31.8" text-anchor="middle" >1/2</text>
<line x1="1711.04" y1="1370.40" x2="1711.04" y2="1498.00" stroke="#000" stroke-width="1.3" />
<line x1="1754.63" y1="1370.40" x2="1754.63" y2="1498.00" stroke="#000" stroke-width="1.3" />
<line x1="1653.30" y1="1483.10" x2="1796.70" y2="1483.10" stroke="#000" stroke-width="1.3" />
<polygon points="1711.04,1483.10 1681.84,1487.40 1681.84,1478.80" fill="#000" stroke="#000" stroke-width="0.4"/>
<polygon points="1754.63,1483.10 1783.84,1478.80 1783.84,1487.40" fill="#000" stroke="#000" stroke-width="0.4"/>
<text transform="translate(1802.70 1494.15) scale(0.975 1)" font-size="31.8" text-anchor="start" >Ø 1 1/2</text>
<polygon points="1738.40,1257.80 1743.34,1228.70 1751.52,1231.36" fill="#000" stroke="#000" stroke-width="0.4"/>
<line x1="1738.40" y1="1257.80" x2="1816.50" y2="1017.50" stroke="#000" stroke-width="1.3" />
<line x1="1816.50" y1="1017.50" x2="1847.60" y2="1017.50" stroke="#000" stroke-width="1.3" />
<text transform="translate(1858.90 1028.80) scale(0.96 1)" font-size="32.7" text-anchor="start" >3/8-16 x 3 LG HEX HEAD CAP SCREW</text>
<polygon points="1751.10,1265.10 1765.68,1239.44 1772.46,1244.73" fill="#000" stroke="#000" stroke-width="0.4"/>
<line x1="1751.10" y1="1265.10" x2="1875.80" y2="1105.40" stroke="#000" stroke-width="1.3" />
<line x1="1875.80" y1="1105.40" x2="1905.90" y2="1105.40" stroke="#000" stroke-width="1.3" />
<text transform="translate(1917.20 1112.30) scale(0.96 1)" font-size="32.7" text-anchor="start" >3/8 FENDER WASHERS (2)</text>
<polygon points="1745.60,1344.80 1768.65,1363.24 1762.36,1369.10" fill="#000" stroke="#000" stroke-width="0.4"/>
<line x1="1745.60" y1="1344.80" x2="1814.90" y2="1419.20" stroke="#000" stroke-width="1.3" />
<line x1="1814.90" y1="1419.20" x2="1842.90" y2="1419.20" stroke="#000" stroke-width="1.3" />
<text transform="translate(1856.20 1429.80) scale(0.96 1)" font-size="32.7" text-anchor="start" >3/8-16 TEE NUT</text>
<polygon points="1491.20,519.20 1563.19,560.76 1953.98,335.14 1953.98,299.51 1881.99,257.95 1491.20,483.58" fill="#fff" stroke="#000" stroke-width="1.55" stroke-linejoin="round"/>
<line x1="1563.19" y1="525.14" x2="1491.20" y2="483.58" stroke="#000" stroke-width="1.55" stroke-linecap="round"/>
<line x1="1563.19" y1="525.14" x2="1953.98" y2="299.51" stroke="#000" stroke-width="1.55" stroke-linecap="round"/>
<line x1="1563.19" y1="525.14" x2="1563.19" y2="560.76" stroke="#000" stroke-width="1.55" stroke-linecap="round"/>
<polygon points="1810.01,703.26 1881.99,744.83 2272.79,519.20 2272.79,483.58 2200.80,442.01 1810.01,667.64" fill="#fff" stroke="#000" stroke-width="1.55" stroke-linejoin="round"/>
<line x1="1881.99" y1="709.20" x2="1810.01" y2="667.64" stroke="#000" stroke-width="1.55" stroke-linecap="round"/>
<line x1="1881.99" y1="709.20" x2="2272.79" y2="483.58" stroke="#000" stroke-width="1.55" stroke-linecap="round"/>
<line x1="1881.99" y1="709.20" x2="1881.99" y2="744.83" stroke="#000" stroke-width="1.55" stroke-linecap="round"/>
<polygon points="1779.15,293.58 1851.14,335.14 1779.15,376.70" fill="#fff" stroke="#000" stroke-width="1.55" stroke-linejoin="round"/>
<polygon points="2097.96,477.64 2169.95,519.20 2097.96,560.76" fill="#fff" stroke="#000" stroke-width="1.55" stroke-linejoin="round"/>
<polygon points="1696.88,364.83 2087.67,590.45 2118.53,572.64 2118.53,489.51 1727.73,263.89 1696.88,281.70" fill="#fff" stroke="#000" stroke-width="1.55" stroke-linejoin="round"/>
<line x1="2087.67" y1="507.33" x2="1696.88" y2="281.70" stroke="#000" stroke-width="1.55" stroke-linecap="round"/>
<line x1="2087.67" y1="507.33" x2="2118.53" y2="489.51" stroke="#000" stroke-width="1.55" stroke-linecap="round"/>
<line x1="2087.67" y1="507.33" x2="2087.67" y2="590.45" stroke="#000" stroke-width="1.55" stroke-linecap="round"/>
<polygon points="1650.60,391.54 2041.40,617.17 2072.25,599.36 2072.25,516.23 1681.45,290.61 1650.60,308.42" fill="#fff" stroke="#000" stroke-width="1.55" stroke-linejoin="round"/>
<line x1="2041.40" y1="534.04" x2="1650.60" y2="308.42" stroke="#000" stroke-width="1.55" stroke-linecap="round"/>
<line x1="2041.40" y1="534.04" x2="2072.25" y2="516.23" stroke="#000" stroke-width="1.55" stroke-linecap="round"/>
<line x1="2041.40" y1="534.04" x2="2041.40" y2="617.17" stroke="#000" stroke-width="1.55" stroke-linecap="round"/>
<polygon points="1522.05,465.76 1594.04,507.33 1722.59,433.11 1722.59,397.48 1650.60,355.92 1522.05,430.14" fill="#fff" stroke="#000" stroke-width="1.55" stroke-linejoin="round"/>
<line x1="1594.04" y1="471.70" x2="1522.05" y2="430.14" stroke="#000" stroke-width="1.55" stroke-linecap="round"/>
<line x1="1594.04" y1="471.70" x2="1722.59" y2="397.48" stroke="#000" stroke-width="1.55" stroke-linecap="round"/>
<line x1="1594.04" y1="471.70" x2="1594.04" y2="507.33" stroke="#000" stroke-width="1.55" stroke-linecap="round"/>
<polygon points="1840.86,649.83 1912.85,691.39 2041.40,617.17 2041.40,581.54 1969.41,539.98 1840.86,614.20" fill="#fff" stroke="#000" stroke-width="1.55" stroke-linejoin="round"/>
<line x1="1912.85" y1="655.76" x2="1840.86" y2="614.20" stroke="#000" stroke-width="1.55" stroke-linecap="round"/>
<line x1="1912.85" y1="655.76" x2="2041.40" y2="581.54" stroke="#000" stroke-width="1.55" stroke-linecap="round"/>
<line x1="1912.85" y1="655.76" x2="1912.85" y2="691.39" stroke="#000" stroke-width="1.55" stroke-linecap="round"/>
<polygon points="1653.89,359.96 1684.75,377.77 1686.60,376.70 1686.60,341.08 1655.74,323.26 1653.89,324.33" fill="#fff" stroke="#000" stroke-width="1.3" stroke-linejoin="round"/>
<line x1="1684.75" y1="342.14" x2="1653.89" y2="324.33" stroke="#000" stroke-width="1.3" stroke-linecap="round"/>
<line x1="1684.75" y1="342.14" x2="1686.60" y2="341.08" stroke="#000" stroke-width="1.3" stroke-linecap="round"/>
<line x1="1684.75" y1="342.14" x2="1684.75" y2="377.77" stroke="#000" stroke-width="1.3" stroke-linecap="round"/>
<polygon points="1624.89,376.70 1655.74,394.51 1684.75,377.77 1684.75,375.63 1653.89,357.82 1624.89,374.56" fill="#fff" stroke="#000" stroke-width="1.3" stroke-linejoin="round"/>
<line x1="1655.74" y1="392.38" x2="1624.89" y2="374.56" stroke="#000" stroke-width="1.3" stroke-linecap="round"/>
<line x1="1655.74" y1="392.38" x2="1684.75" y2="375.63" stroke="#000" stroke-width="1.3" stroke-linecap="round"/>
<line x1="1655.74" y1="392.38" x2="1655.74" y2="394.51" stroke="#000" stroke-width="1.3" stroke-linecap="round"/>
<polygon points="1672.10,342.68 1672.06,342.14 1671.94,341.57 1671.75,340.99 1671.49,340.42 1671.18,339.87 1670.81,339.36 1670.40,338.91 1669.97,338.53 1669.53,338.23 1669.08,338.01 1668.65,337.90 1668.24,337.88 1667.87,337.97 1667.56,338.15 1667.30,338.42 1667.11,338.78 1666.99,339.22 1666.95,339.71 1666.99,340.25 1667.11,340.81 1667.30,341.39 1667.56,341.96 1667.87,342.51 1668.24,343.02 1668.65,343.48 1669.08,343.86 1669.53,344.16 1669.97,344.38 1670.40,344.49 1670.81,344.51 1671.18,344.42 1671.49,344.24 1671.75,343.96 1671.94,343.60 1672.06,343.17" fill="#fff" stroke="#000" stroke-width="1.8" />
<polygon points="1649.47,380.20 1649.88,379.92 1650.20,379.61 1650.41,379.26 1650.52,378.90 1650.52,378.54 1650.41,378.18 1650.20,377.83 1649.88,377.51 1649.47,377.23 1648.99,377.00 1648.44,376.82 1647.84,376.69 1647.22,376.63 1646.58,376.63 1645.96,376.69 1645.36,376.82 1644.82,377.00 1644.33,377.23 1643.92,377.51 1643.61,377.83 1643.39,378.18 1643.28,378.54 1643.28,378.90 1643.39,379.26 1643.61,379.61 1643.92,379.92 1644.33,380.20 1644.82,380.44 1645.36,380.62 1645.96,380.75 1646.58,380.81 1647.22,380.81 1647.84,380.75 1648.44,380.62 1648.99,380.44" fill="#fff" stroke="#000" stroke-width="1.8" />
<polygon points="1663.05,349.33 1663.01,348.79 1662.89,348.22 1662.70,347.64 1662.45,347.07 1662.13,346.52 1661.76,346.01 1661.35,345.56 1660.92,345.18 1660.48,344.88 1660.03,344.66 1659.60,344.55 1659.19,344.53 1658.82,344.62 1658.51,344.80 1658.25,345.07 1658.06,345.43 1657.94,345.87 1657.90,346.36 1657.94,346.90 1658.06,347.46 1658.25,348.04 1658.51,348.61 1658.82,349.16 1659.19,349.67 1659.60,350.13 1660.03,350.51 1660.48,350.81 1660.92,351.03 1661.35,351.14 1661.76,351.16 1662.13,351.07 1662.45,350.89 1662.70,350.61 1662.89,350.25 1663.01,349.82" fill="#fff" stroke="#000" stroke-width="1.8" />
<polygon points="1650.71,369.04 1651.11,368.76 1651.43,368.44 1651.65,368.10 1651.76,367.74 1651.76,367.37 1651.65,367.01 1651.43,366.67 1651.11,366.35 1650.71,366.07 1650.22,365.84 1649.67,365.65 1649.08,365.53 1648.45,365.47 1647.82,365.47 1647.19,365.53 1646.60,365.65 1646.05,365.84 1645.56,366.07 1645.16,366.35 1644.84,366.67 1644.62,367.01 1644.51,367.37 1644.51,367.74 1644.62,368.10 1644.84,368.44 1645.16,368.76 1645.56,369.04 1646.05,369.28 1646.60,369.46 1647.19,369.58 1647.82,369.65 1648.45,369.65 1649.08,369.58 1649.67,369.46 1650.22,369.28" fill="#fff" stroke="#000" stroke-width="1.8" />
<polygon points="1681.15,356.81 1681.11,356.27 1680.99,355.70 1680.80,355.13 1680.54,354.55 1680.23,354.00 1679.86,353.50 1679.45,353.04 1679.02,352.66 1678.58,352.36 1678.13,352.14 1677.70,352.03 1677.29,352.01 1676.92,352.10 1676.61,352.28 1676.35,352.56 1676.16,352.91 1676.04,353.35 1676.00,353.84 1676.04,354.38 1676.16,354.95 1676.35,355.52 1676.61,356.10 1676.92,356.65 1677.29,357.15 1677.70,357.61 1678.13,357.99 1678.58,358.29 1679.02,358.51 1679.45,358.62 1679.86,358.64 1680.23,358.55 1680.54,358.37 1680.80,358.09 1680.99,357.74 1681.11,357.30" fill="#fff" stroke="#000" stroke-width="1.8" />
<polygon points="1666.23,380.98 1666.64,380.69 1666.96,380.38 1667.18,380.03 1667.29,379.67 1667.29,379.31 1667.18,378.95 1666.96,378.60 1666.64,378.29 1666.23,378.01 1665.75,377.77 1665.20,377.59 1664.60,377.46 1663.98,377.40 1663.35,377.40 1662.72,377.46 1662.13,377.59 1661.58,377.77 1661.09,378.01 1660.69,378.29 1660.37,378.60 1660.15,378.95 1660.04,379.31 1660.04,379.67 1660.15,380.03 1660.37,380.38 1660.69,380.69 1661.09,380.98 1661.58,381.21 1662.13,381.39 1662.72,381.52 1663.35,381.58 1663.98,381.58 1664.60,381.52 1665.20,381.39 1665.75,381.21" fill="#fff" stroke="#000" stroke-width="1.8" />
<polygon points="1684.75,377.77 1715.60,395.58 1717.45,394.51 1717.45,358.89 1686.60,341.08 1684.75,342.14" fill="#fff" stroke="#000" stroke-width="1.3" stroke-linejoin="round"/>
<line x1="1715.60" y1="359.96" x2="1684.75" y2="342.14" stroke="#000" stroke-width="1.3" stroke-linecap="round"/>
<line x1="1715.60" y1="359.96" x2="1717.45" y2="358.89" stroke="#000" stroke-width="1.3" stroke-linecap="round"/>
<line x1="1715.60" y1="359.96" x2="1715.60" y2="395.58" stroke="#000" stroke-width="1.3" stroke-linecap="round"/>
<polygon points="1655.74,394.51 1686.60,412.33 1715.60,395.58 1715.60,393.44 1684.75,375.63 1655.74,392.38" fill="#fff" stroke="#000" stroke-width="1.3" stroke-linejoin="round"/>
<line x1="1686.60" y1="410.19" x2="1655.74" y2="392.38" stroke="#000" stroke-width="1.3" stroke-linecap="round"/>
<line x1="1686.60" y1="410.19" x2="1715.60" y2="393.44" stroke="#000" stroke-width="1.3" stroke-linecap="round"/>
<line x1="1686.60" y1="410.19" x2="1686.60" y2="412.33" stroke="#000" stroke-width="1.3" stroke-linecap="round"/>
<polygon points="1702.95,360.49 1702.91,359.95 1702.79,359.39 1702.60,358.81 1702.35,358.24 1702.03,357.69 1701.66,357.18 1701.26,356.72 1700.82,356.34 1700.38,356.04 1699.93,355.82 1699.50,355.71 1699.09,355.69 1698.72,355.78 1698.41,355.96 1698.15,356.24 1697.96,356.60 1697.85,357.03 1697.81,357.52 1697.85,358.06 1697.96,358.63 1698.15,359.21 1698.41,359.78 1698.72,360.33 1699.09,360.84 1699.50,361.29 1699.93,361.67 1700.38,361.98 1700.82,362.19 1701.26,362.30 1701.66,362.32 1702.03,362.23 1702.35,362.05 1702.60,361.78 1702.79,361.42 1702.91,360.98" fill="#fff" stroke="#000" stroke-width="1.8" />
<polygon points="1680.32,398.02 1680.73,397.74 1681.05,397.42 1681.26,397.07 1681.37,396.71 1681.37,396.35 1681.26,395.99 1681.05,395.64 1680.73,395.33 1680.32,395.05 1679.84,394.81 1679.29,394.63 1678.69,394.50 1678.07,394.44 1677.44,394.44 1676.81,394.50 1676.22,394.63 1675.67,394.81 1675.18,395.05 1674.77,395.33 1674.46,395.64 1674.24,395.99 1674.13,396.35 1674.13,396.71 1674.24,397.07 1674.46,397.42 1674.77,397.74 1675.18,398.02 1675.67,398.25 1676.22,398.43 1676.81,398.56 1677.44,398.62 1678.07,398.62 1678.69,398.56 1679.29,398.43 1679.84,398.25" fill="#fff" stroke="#000" stroke-width="1.8" />
<polygon points="1693.90,367.14 1693.86,366.60 1693.74,366.04 1693.55,365.46 1693.30,364.89 1692.98,364.34 1692.61,363.83 1692.21,363.37 1691.77,362.99 1691.33,362.69 1690.88,362.47 1690.45,362.36 1690.04,362.34 1689.68,362.43 1689.36,362.61 1689.10,362.89 1688.91,363.25 1688.80,363.68 1688.76,364.17 1688.80,364.71 1688.91,365.28 1689.10,365.86 1689.36,366.43 1689.68,366.98 1690.04,367.49 1690.45,367.94 1690.88,368.32 1691.33,368.62 1691.77,368.84 1692.21,368.95 1692.61,368.97 1692.98,368.88 1693.30,368.70 1693.55,368.43 1693.74,368.07 1693.86,367.63" fill="#fff" stroke="#000" stroke-width="1.8" />
<polygon points="1681.56,386.85 1681.97,386.57 1682.28,386.26 1682.50,385.91 1682.61,385.55 1682.61,385.19 1682.50,384.83 1682.28,384.48 1681.97,384.16 1681.56,383.88 1681.07,383.65 1680.52,383.47 1679.93,383.34 1679.30,383.28 1678.67,383.28 1678.05,383.34 1677.45,383.47 1676.90,383.65 1676.42,383.88 1676.01,384.16 1675.69,384.48 1675.47,384.83 1675.36,385.19 1675.36,385.55 1675.47,385.91 1675.69,386.26 1676.01,386.57 1676.42,386.85 1676.90,387.09 1677.45,387.27 1678.05,387.40 1678.67,387.46 1679.30,387.46 1679.93,387.40 1680.52,387.27 1681.07,387.09" fill="#fff" stroke="#000" stroke-width="1.8" />
<polygon points="1712.00,374.62 1711.96,374.08 1711.84,373.52 1711.65,372.94 1711.40,372.37 1711.08,371.82 1710.71,371.31 1710.31,370.86 1709.87,370.47 1709.43,370.17 1708.98,369.96 1708.55,369.84 1708.14,369.82 1707.77,369.91 1707.46,370.09 1707.20,370.37 1707.01,370.73 1706.90,371.16 1706.86,371.65 1706.90,372.19 1707.01,372.76 1707.20,373.34 1707.46,373.91 1707.77,374.46 1708.14,374.97 1708.55,375.42 1708.98,375.80 1709.43,376.11 1709.87,376.32 1710.31,376.43 1710.71,376.45 1711.08,376.37 1711.40,376.18 1711.65,375.91 1711.84,375.55 1711.96,375.11" fill="#fff" stroke="#000" stroke-width="1.8" />
<polygon points="1697.09,398.79 1697.49,398.51 1697.81,398.19 1698.03,397.85 1698.14,397.49 1698.14,397.12 1698.03,396.76 1697.81,396.42 1697.49,396.10 1697.09,395.82 1696.60,395.58 1696.05,395.40 1695.46,395.28 1694.83,395.21 1694.20,395.21 1693.57,395.28 1692.98,395.40 1692.43,395.58 1691.94,395.82 1691.54,396.10 1691.22,396.42 1691.00,396.76 1690.89,397.12 1690.89,397.49 1691.00,397.85 1691.22,398.19 1691.54,398.51 1691.94,398.79 1692.43,399.02 1692.98,399.21 1693.57,399.33 1694.20,399.39 1694.83,399.39 1695.46,399.33 1696.05,399.21 1696.60,399.02" fill="#fff" stroke="#000" stroke-width="1.8" />
<polygon points="1645.46,406.39 1646.28,405.83 1646.91,405.19 1647.34,404.51 1647.56,403.78 1647.56,403.05 1647.34,402.33 1646.91,401.64 1646.28,401.01 1645.46,400.45 1644.49,399.98 1643.39,399.61 1642.20,399.36 1640.95,399.24 1639.68,399.24 1638.44,399.36 1637.25,399.61 1636.15,399.98 1635.18,400.45 1604.32,418.26 1603.51,418.82 1602.88,419.46 1602.44,420.14 1602.22,420.87 1602.22,421.60 1602.44,422.32 1602.88,423.01 1603.51,423.64 1604.32,424.20 1605.30,424.67 1606.39,425.04 1607.58,425.29 1608.83,425.41 1610.10,425.41 1611.35,425.29 1612.54,425.04 1613.64,424.67 1614.61,424.20" fill="#fff" stroke="#000" stroke-width="1.55" />
<line x1="1634.82" y1="400.42" x2="1634.82" y2="410.72" stroke="#000" stroke-width="1.1" />
<path d="M1587.65,417.67 L1587.65,421.23 A21.82,12.60 0 0 0 1631.28,421.23 L1631.28,417.67 Z" fill="#111" stroke="#000" stroke-width="1"/>
<ellipse cx="1609.47" cy="417.67" rx="21.82" ry="12.60" fill="#fff" stroke="#000" stroke-width="1.55"/>
<polygon points="1615.64,414.11 1607.21,412.80 1607.21,407.58 1615.64,408.88" fill="#fff" stroke="#000" stroke-width="1.25" stroke-linejoin="round"/>
<polygon points="1607.21,412.80 1601.04,416.36 1601.04,411.14 1607.21,407.58" fill="#fff" stroke="#000" stroke-width="1.25" stroke-linejoin="round"/>
<polygon points="1617.90,418.97 1615.64,414.11 1615.64,408.88 1617.90,413.75" fill="#fff" stroke="#000" stroke-width="1.25" stroke-linejoin="round"/>
<polygon points="1601.04,416.36 1603.30,421.23 1603.30,416.01 1601.04,411.14" fill="#fff" stroke="#000" stroke-width="1.25" stroke-linejoin="round"/>
<polygon points="1611.73,422.54 1617.90,418.97 1617.90,413.75 1611.73,417.31" fill="#fff" stroke="#000" stroke-width="1.25" stroke-linejoin="round"/>
<polygon points="1603.30,421.23 1611.73,422.54 1611.73,417.31 1603.30,416.01" fill="#fff" stroke="#000" stroke-width="1.25" stroke-linejoin="round"/>
<polygon points="1611.73,417.31 1617.90,413.75 1615.64,408.88 1607.21,407.58 1601.04,411.14 1603.30,416.01" fill="#fff" stroke="#000" stroke-width="1.25" stroke-linejoin="round"/>
<polygon points="1972.70,544.02 2003.55,561.83 2005.40,560.76 2005.40,525.14 1974.55,507.33 1972.70,508.39" fill="#fff" stroke="#000" stroke-width="1.3" stroke-linejoin="round"/>
<line x1="2003.55" y1="526.21" x2="1972.70" y2="508.39" stroke="#000" stroke-width="1.3" stroke-linecap="round"/>
<line x1="2003.55" y1="526.21" x2="2005.40" y2="525.14" stroke="#000" stroke-width="1.3" stroke-linecap="round"/>
<line x1="2003.55" y1="526.21" x2="2003.55" y2="561.83" stroke="#000" stroke-width="1.3" stroke-linecap="round"/>
<polygon points="1943.70,560.76 1974.55,578.58 2003.55,561.83 2003.55,559.69 1972.70,541.88 1943.70,558.62" fill="#fff" stroke="#000" stroke-width="1.3" stroke-linejoin="round"/>
<line x1="1974.55" y1="576.44" x2="1943.70" y2="558.62" stroke="#000" stroke-width="1.3" stroke-linecap="round"/>
<line x1="1974.55" y1="576.44" x2="2003.55" y2="559.69" stroke="#000" stroke-width="1.3" stroke-linecap="round"/>
<line x1="1974.55" y1="576.44" x2="1974.55" y2="578.58" stroke="#000" stroke-width="1.3" stroke-linecap="round"/>
<polygon points="1990.90,526.74 1990.86,526.20 1990.75,525.64 1990.56,525.06 1990.30,524.49 1989.98,523.94 1989.62,523.43 1989.21,522.97 1988.78,522.59 1988.33,522.29 1987.88,522.07 1987.45,521.96 1987.05,521.94 1986.68,522.03 1986.36,522.21 1986.10,522.49 1985.92,522.85 1985.80,523.28 1985.76,523.77 1985.80,524.31 1985.92,524.88 1986.10,525.46 1986.36,526.03 1986.68,526.58 1987.05,527.09 1987.45,527.54 1987.88,527.92 1988.33,528.23 1988.78,528.44 1989.21,528.55 1989.62,528.57 1989.98,528.48 1990.30,528.30 1990.56,528.03 1990.75,527.67 1990.86,527.23" fill="#fff" stroke="#000" stroke-width="1.8" />
<polygon points="1968.28,564.27 1968.68,563.99 1969.00,563.67 1969.22,563.32 1969.33,562.96 1969.33,562.60 1969.22,562.24 1969.00,561.89 1968.68,561.58 1968.28,561.30 1967.79,561.06 1967.24,560.88 1966.65,560.75 1966.02,560.69 1965.39,560.69 1964.77,560.75 1964.17,560.88 1963.62,561.06 1963.14,561.30 1962.73,561.58 1962.41,561.89 1962.19,562.24 1962.08,562.60 1962.08,562.96 1962.19,563.32 1962.41,563.67 1962.73,563.99 1963.14,564.27 1963.62,564.50 1964.17,564.68 1964.77,564.81 1965.39,564.87 1966.02,564.87 1966.65,564.81 1967.24,564.68 1967.79,564.50" fill="#fff" stroke="#000" stroke-width="1.8" />
<polygon points="1981.85,533.39 1981.81,532.85 1981.70,532.29 1981.51,531.71 1981.25,531.14 1980.93,530.59 1980.57,530.08 1980.16,529.62 1979.73,529.24 1979.28,528.94 1978.83,528.72 1978.40,528.61 1978.00,528.59 1977.63,528.68 1977.31,528.86 1977.05,529.14 1976.87,529.50 1976.75,529.93 1976.71,530.42 1976.75,530.96 1976.87,531.53 1977.05,532.11 1977.31,532.68 1977.63,533.23 1978.00,533.74 1978.40,534.19 1978.83,534.57 1979.28,534.88 1979.73,535.09 1980.16,535.20 1980.57,535.22 1980.93,535.13 1981.25,534.95 1981.51,534.68 1981.70,534.32 1981.81,533.88" fill="#fff" stroke="#000" stroke-width="1.8" />
<polygon points="1969.51,553.10 1969.92,552.82 1970.24,552.51 1970.45,552.16 1970.56,551.80 1970.56,551.44 1970.45,551.08 1970.24,550.73 1969.92,550.41 1969.51,550.13 1969.03,549.90 1968.48,549.72 1967.88,549.59 1967.26,549.53 1966.62,549.53 1966.00,549.59 1965.40,549.72 1964.85,549.90 1964.37,550.13 1963.96,550.41 1963.64,550.73 1963.43,551.08 1963.32,551.44 1963.32,551.80 1963.43,552.16 1963.64,552.51 1963.96,552.82 1964.37,553.10 1964.85,553.34 1965.40,553.52 1966.00,553.65 1966.62,553.71 1967.26,553.71 1967.88,553.65 1968.48,553.52 1969.03,553.34" fill="#fff" stroke="#000" stroke-width="1.8" />
<polygon points="1999.95,540.87 1999.91,540.33 1999.80,539.77 1999.61,539.19 1999.35,538.62 1999.03,538.07 1998.67,537.56 1998.26,537.11 1997.83,536.72 1997.38,536.42 1996.93,536.21 1996.50,536.09 1996.10,536.07 1995.73,536.16 1995.41,536.34 1995.15,536.62 1994.97,536.98 1994.85,537.41 1994.81,537.90 1994.85,538.44 1994.97,539.01 1995.15,539.59 1995.41,540.16 1995.73,540.71 1996.10,541.22 1996.50,541.67 1996.93,542.05 1997.38,542.36 1997.83,542.57 1998.26,542.68 1998.67,542.70 1999.03,542.62 1999.35,542.43 1999.61,542.16 1999.80,541.80 1999.91,541.36" fill="#fff" stroke="#000" stroke-width="1.8" />
<polygon points="1985.04,565.04 1985.45,564.76 1985.76,564.44 1985.98,564.10 1986.09,563.74 1986.09,563.37 1985.98,563.01 1985.76,562.67 1985.45,562.35 1985.04,562.07 1984.55,561.83 1984.01,561.65 1983.41,561.53 1982.79,561.46 1982.15,561.46 1981.53,561.53 1980.93,561.65 1980.38,561.83 1979.90,562.07 1979.49,562.35 1979.17,562.67 1978.96,563.01 1978.85,563.37 1978.85,563.74 1978.96,564.10 1979.17,564.44 1979.49,564.76 1979.90,565.04 1980.38,565.27 1980.93,565.46 1981.53,565.58 1982.15,565.64 1982.79,565.64 1983.41,565.58 1984.01,565.46 1984.55,565.27" fill="#fff" stroke="#000" stroke-width="1.8" />
<polygon points="2003.55,561.83 2034.40,579.64 2036.25,578.58 2036.25,542.95 2005.40,525.14 2003.55,526.21" fill="#fff" stroke="#000" stroke-width="1.3" stroke-linejoin="round"/>
<line x1="2034.40" y1="544.02" x2="2003.55" y2="526.21" stroke="#000" stroke-width="1.3" stroke-linecap="round"/>
<line x1="2034.40" y1="544.02" x2="2036.25" y2="542.95" stroke="#000" stroke-width="1.3" stroke-linecap="round"/>
<line x1="2034.40" y1="544.02" x2="2034.40" y2="579.64" stroke="#000" stroke-width="1.3" stroke-linecap="round"/>
<polygon points="1974.55,578.58 2005.40,596.39 2034.40,579.64 2034.40,577.51 2003.55,559.69 1974.55,576.44" fill="#fff" stroke="#000" stroke-width="1.3" stroke-linejoin="round"/>
<line x1="2005.40" y1="594.25" x2="1974.55" y2="576.44" stroke="#000" stroke-width="1.3" stroke-linecap="round"/>
<line x1="2005.40" y1="594.25" x2="2034.40" y2="577.51" stroke="#000" stroke-width="1.3" stroke-linecap="round"/>
<line x1="2005.40" y1="594.25" x2="2005.40" y2="596.39" stroke="#000" stroke-width="1.3" stroke-linecap="round"/>
<polygon points="2021.75,544.55 2021.72,544.02 2021.60,543.45 2021.41,542.87 2021.15,542.30 2020.84,541.75 2020.47,541.24 2020.06,540.79 2019.63,540.40 2019.18,540.10 2018.74,539.89 2018.30,539.77 2017.90,539.76 2017.53,539.84 2017.21,540.02 2016.96,540.30 2016.77,540.66 2016.65,541.09 2016.61,541.58 2016.65,542.12 2016.77,542.69 2016.96,543.27 2017.21,543.84 2017.53,544.39 2017.90,544.90 2018.30,545.35 2018.74,545.73 2019.18,546.04 2019.63,546.25 2020.06,546.37 2020.47,546.38 2020.84,546.30 2021.15,546.11 2021.41,545.84 2021.60,545.48 2021.72,545.05" fill="#fff" stroke="#000" stroke-width="1.8" />
<polygon points="1999.13,582.08 1999.54,581.80 1999.85,581.48 2000.07,581.14 2000.18,580.78 2000.18,580.41 2000.07,580.05 1999.85,579.71 1999.54,579.39 1999.13,579.11 1998.64,578.87 1998.09,578.69 1997.50,578.57 1996.88,578.50 1996.24,578.50 1995.62,578.57 1995.02,578.69 1994.47,578.87 1993.99,579.11 1993.58,579.39 1993.26,579.71 1993.05,580.05 1992.94,580.41 1992.94,580.78 1993.05,581.14 1993.26,581.48 1993.58,581.80 1993.99,582.08 1994.47,582.31 1995.02,582.50 1995.62,582.62 1996.24,582.68 1996.88,582.68 1997.50,582.62 1998.09,582.50 1998.64,582.31" fill="#fff" stroke="#000" stroke-width="1.8" />
<polygon points="2012.70,551.20 2012.67,550.67 2012.55,550.10 2012.36,549.52 2012.10,548.95 2011.79,548.40 2011.42,547.89 2011.01,547.44 2010.58,547.05 2010.13,546.75 2009.69,546.54 2009.25,546.42 2008.85,546.41 2008.48,546.49 2008.16,546.67 2007.91,546.95 2007.72,547.31 2007.60,547.74 2007.56,548.23 2007.60,548.77 2007.72,549.34 2007.91,549.92 2008.16,550.49 2008.48,551.04 2008.85,551.55 2009.25,552.00 2009.69,552.38 2010.13,552.69 2010.58,552.90 2011.01,553.02 2011.42,553.03 2011.79,552.95 2012.10,552.76 2012.36,552.49 2012.55,552.13 2012.67,551.70" fill="#fff" stroke="#000" stroke-width="1.8" />
<polygon points="2000.36,570.92 2000.77,570.64 2001.09,570.32 2001.30,569.97 2001.41,569.61 2001.41,569.25 2001.30,568.89 2001.09,568.54 2000.77,568.23 2000.36,567.95 1999.88,567.71 1999.33,567.53 1998.73,567.40 1998.11,567.34 1997.48,567.34 1996.85,567.40 1996.26,567.53 1995.71,567.71 1995.22,567.95 1994.81,568.23 1994.50,568.54 1994.28,568.89 1994.17,569.25 1994.17,569.61 1994.28,569.97 1994.50,570.32 1994.81,570.64 1995.22,570.92 1995.71,571.15 1996.26,571.33 1996.85,571.46 1997.48,571.52 1998.11,571.52 1998.73,571.46 1999.33,571.33 1999.88,571.15" fill="#fff" stroke="#000" stroke-width="1.8" />
<polygon points="2030.80,558.68 2030.77,558.15 2030.65,557.58 2030.46,557.00 2030.20,556.43 2029.89,555.88 2029.52,555.37 2029.11,554.92 2028.68,554.53 2028.23,554.23 2027.79,554.02 2027.35,553.90 2026.95,553.89 2026.58,553.97 2026.26,554.15 2026.01,554.43 2025.82,554.79 2025.70,555.22 2025.66,555.72 2025.70,556.25 2025.82,556.82 2026.01,557.40 2026.26,557.97 2026.58,558.52 2026.95,559.03 2027.35,559.48 2027.79,559.87 2028.23,560.17 2028.68,560.38 2029.11,560.50 2029.52,560.51 2029.89,560.43 2030.20,560.25 2030.46,559.97 2030.65,559.61 2030.77,559.18" fill="#fff" stroke="#000" stroke-width="1.8" />
<polygon points="2015.89,582.85 2016.30,582.57 2016.62,582.25 2016.83,581.91 2016.94,581.55 2016.94,581.18 2016.83,580.82 2016.62,580.48 2016.30,580.16 2015.89,579.88 2015.41,579.65 2014.86,579.46 2014.26,579.34 2013.64,579.27 2013.00,579.27 2012.38,579.34 2011.78,579.46 2011.24,579.65 2010.75,579.88 2010.34,580.16 2010.03,580.48 2009.81,580.82 2009.70,581.18 2009.70,581.55 2009.81,581.91 2010.03,582.25 2010.34,582.57 2010.75,582.85 2011.24,583.09 2011.78,583.27 2012.38,583.39 2013.00,583.46 2013.64,583.46 2014.26,583.39 2014.86,583.27 2015.41,583.09" fill="#fff" stroke="#000" stroke-width="1.8" />
<polygon points="1964.27,590.45 1965.08,589.89 1965.71,589.26 1966.15,588.57 1966.37,587.85 1966.37,587.12 1966.15,586.39 1965.71,585.71 1965.08,585.07 1964.27,584.51 1963.30,584.04 1962.20,583.68 1961.01,583.43 1959.76,583.30 1958.49,583.30 1957.24,583.43 1956.05,583.68 1954.95,584.04 1953.98,584.51 1923.13,602.33 1922.32,602.89 1921.68,603.52 1921.25,604.21 1921.03,604.93 1921.03,605.66 1921.25,606.38 1921.68,607.07 1922.32,607.70 1923.13,608.26 1924.10,608.73 1925.20,609.10 1926.39,609.35 1927.64,609.48 1928.91,609.48 1930.15,609.35 1931.35,609.10 1932.44,608.73 1933.41,608.26" fill="#fff" stroke="#000" stroke-width="1.55" />
<line x1="1953.62" y1="584.48" x2="1953.62" y2="594.78" stroke="#000" stroke-width="1.1" />
<path d="M1906.46,601.73 L1906.46,605.29 A21.82,12.60 0 0 0 1950.09,605.29 L1950.09,601.73 Z" fill="#111" stroke="#000" stroke-width="1"/>
<ellipse cx="1928.27" cy="601.73" rx="21.82" ry="12.60" fill="#fff" stroke="#000" stroke-width="1.55"/>
<polygon points="1934.44,598.17 1926.01,596.86 1926.01,591.64 1934.44,592.94" fill="#fff" stroke="#000" stroke-width="1.25" stroke-linejoin="round"/>
<polygon points="1926.01,596.86 1919.84,600.43 1919.84,595.20 1926.01,591.64" fill="#fff" stroke="#000" stroke-width="1.25" stroke-linejoin="round"/>
<polygon points="1936.70,603.04 1934.44,598.17 1934.44,592.94 1936.70,597.81" fill="#fff" stroke="#000" stroke-width="1.25" stroke-linejoin="round"/>
<polygon points="1919.84,600.43 1922.10,605.29 1922.10,600.07 1919.84,595.20" fill="#fff" stroke="#000" stroke-width="1.25" stroke-linejoin="round"/>
<polygon points="1930.53,606.60 1936.70,603.04 1936.70,597.81 1930.53,601.37" fill="#fff" stroke="#000" stroke-width="1.25" stroke-linejoin="round"/>
<polygon points="1922.10,605.29 1930.53,606.60 1930.53,601.37 1922.10,600.07" fill="#fff" stroke="#000" stroke-width="1.25" stroke-linejoin="round"/>
<polygon points="1930.53,601.37 1936.70,597.81 1934.44,592.94 1926.01,591.64 1919.84,595.20 1922.10,600.07" fill="#fff" stroke="#000" stroke-width="1.25" stroke-linejoin="round"/>
</svg>
</body></html>
